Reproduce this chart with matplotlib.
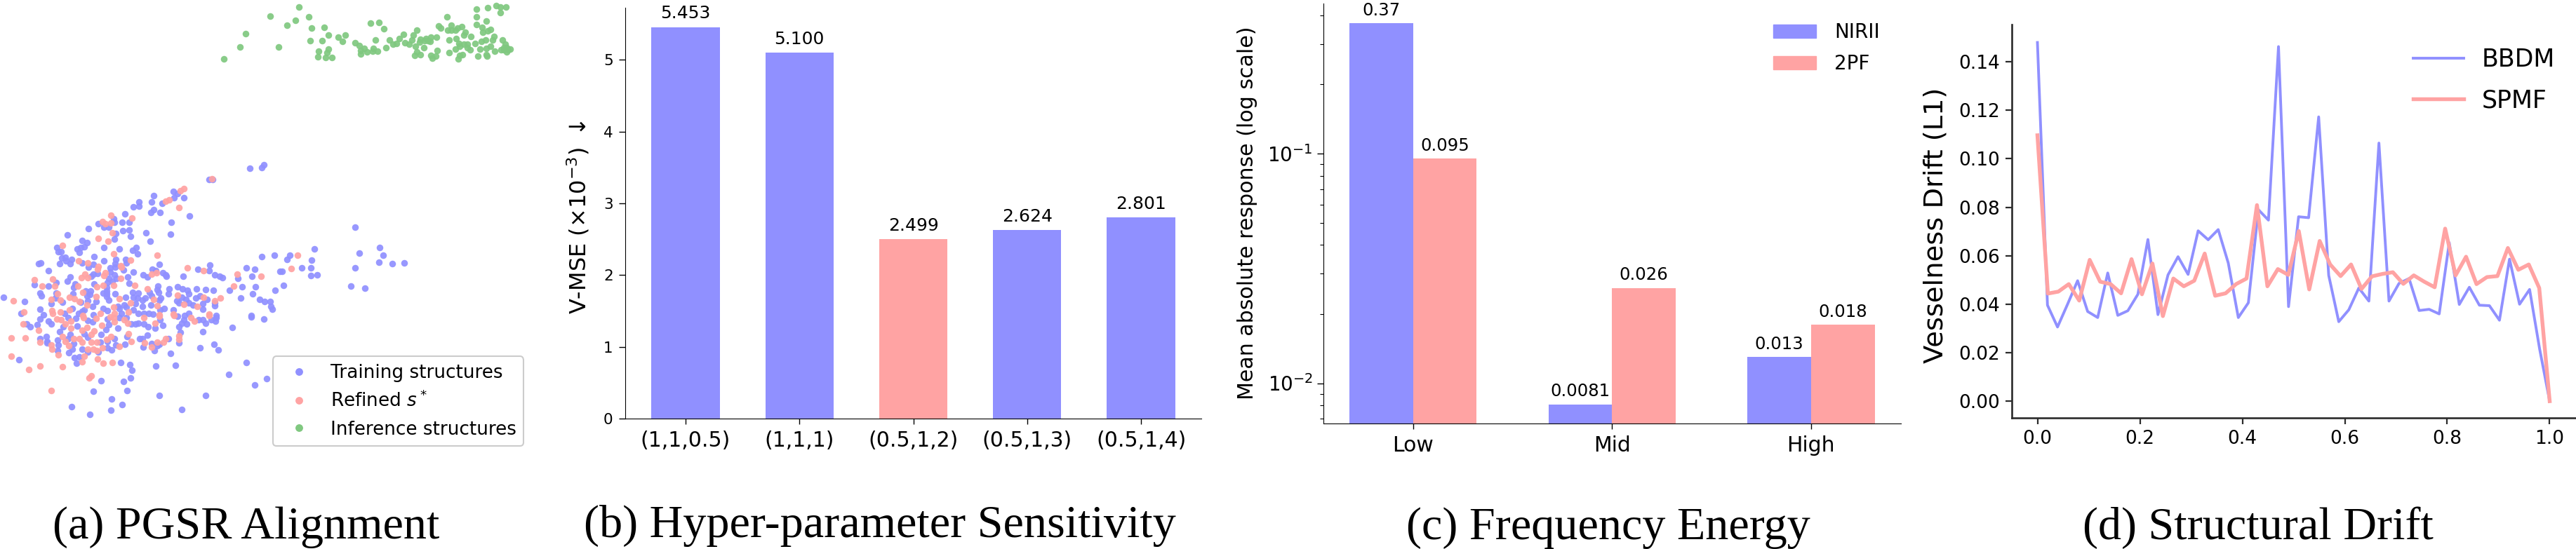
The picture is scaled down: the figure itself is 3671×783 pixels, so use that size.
import numpy as np
import matplotlib
matplotlib.use("Agg")
import matplotlib.pyplot as plt
from matplotlib.lines import Line2D
from matplotlib.patches import Patch
from matplotlib.ticker import NullFormatter

W, H = 3671, 783
BLUE = "#9090FF"
PINK = "#FFA3A3"
GREEN = "#80C880"
SPINE_DARK = "#2b2b2b"

# ---- (a) embedding coordinates -------------------------------------------
train_points = [
    (376,235),(373,239),(356,240),(303,256),(298,256),(247,273),(253,276),(219,279),(248,282),(262,282),
    (198,288),(216,288),(231,290),(190,295),(198,294),(219,299),
    (178,305),(174,317),(184,317),(162,312),(163,317),(140,319),(148,324),(155,324),(126,326),(175,329),
    (184,328),(186,337),(165,333),(163,341),(96,335),(117,343),(124,346),(148,353),(170,355),(194,353),
    (189,357),(196,362),(81,353),(83,359),(87,359),(110,355),(115,353),(120,352),(113,360),(134,366),
    (88,368),(93,367),(94,372),(102,370),(100,376),(85,376),(117,375),(148,372),(165,370),(179,370),
    (180,375),(55,376),(58,375),(69,386),(126,381),(133,377),(164,376),(164,381),(157,382),(157,388),
    (176,385),(190,388),(133,391),(130,394),(139,390),(163,392),(155,397),(166,397),(182,395),(100,395),
    (96,401),(80,403),(134,405),(153,403),(160,401),(184,404),(107,405),(105,410),(69,408),(49,406),
    (152,410),(152,415),(147,418),(152,419),(129,415),(122,415),(164,419),(189,417),(197,418),(57,418),
    (59,422),(80,418),(104,419),(124,422),(128,420),(152,423),(155,428),(179,424),(190,424),(196,425),
    (5,424),(35,430),(79,425),(89,431),(73,433),(115,431),(125,429),(137,430),(147,440),(168,437),
    (177,435),(193,433),(153,443),(170,440),(57,441),(103,440),(120,442),(132,437),(190,442),(197,447),
    (180,438),(30,447),(62,449),(92,447),(112,447),(117,444),(133,449),(173,447),
    (215,303),(228,303),(244,317),(270,308),(208,332),(243,334),(214,344),(373,366),(391,364),(227,377),
    (299,378),(351,382),(363,384),(217,384),(222,386),(282,384),(298,386),(399,387),(204,392),(210,395),
    (232,389),(236,392),(237,394),(261,394),(306,392),(313,394),(317,396),(339,397),(359,394),(225,408),
    (224,413),(241,412),(253,409),(260,412),(267,414),(280,412),(293,413),(304,414),(327,414),(345,409),
    (364,409),(392,414),(360,419),(343,425),(370,427),(377,430),(385,430),(386,437),(388,441),(226,417),
    (240,419),(213,417),(216,422),(269,419),(285,422),(259,424),(279,425),(295,427),(229,425),(207,425),
    (203,428),(252,429),(255,432),(265,427),(269,432),(275,435),(289,433),(306,432),(306,436),(215,435),
    (203,437),(227,428),(234,440),(228,442),(247,442),(289,441),(212,447),(205,447),(218,448),(269,447),
    (358,450),(263,450),(308,450),
    (57,455),(38,462),(43,466),(69,458),(73,462),(53,463),(90,466),(108,454),(97,453),(125,457),
    (132,459),(153,455),(170,453),(155,463),(151,470),(168,468),(187,462),(197,461),(193,462),(180,453),
    (110,465),(85,473),(100,477),(120,476),(125,481),(144,477),(66,480),(57,483),(67,487),(67,489),
    (82,485),(83,492),(82,500),(97,483),(105,490),(163,483),(143,488),(153,487),(181,480),(178,491),
    (165,492),(153,496),(159,499),(117,498),(103,498),(98,503),(140,502),(125,502),(106,510),(113,509),
    (109,518),(27,513),(172,517),(185,520),(188,528),(186,539),(144,543),(176,544),(181,557),(133,558),
    (159,569),(174,577),(158,585),(102,580),(128,591),(199,483),
    (228,456),(205,462),(211,466),(221,468),(232,464),(255,466),(262,456),(259,461),(266,462),(283,456),
    (289,456),(293,461),(301,456),(307,458),(308,453),(358,452),(376,455),(331,467),(289,473),(257,474),
    (210,478),(240,483),(203,483),(305,491),(311,499),(285,496),(255,489),(216,490),(224,493),(227,491),
    (204,495),(220,500),(243,504),(222,522),(250,521),(351,517),(326,534),(380,540),(363,549),(227,564),
    (293,564),(259,584),(253,451),
    (506,324),(541,353),(512,361),(546,364),(540,374),(559,376),(576,375),(506,382),(448,355),(413,364),
    (409,370),(444,371),(443,382),(430,382),(402,387),(443,393),(452,392),(404,407),(500,408),(520,411),
]
refined_points = [
    (302,255),(262,269),(257,272),(241,285),(236,287),(255,296),
    (158,307),(188,311),(146,316),(150,319),(158,318),(160,332),(140,340),(154,344),(89,350),(162,362),
    (186,371),(112,372),(125,375),(140,380),(139,384),(172,379),(173,381),(150,389),(148,393),(121,391),
    (116,396),(125,396),(172,397),(75,398),(49,399),(60,408),(78,408),(111,408),(138,409),(147,407),
    (162,407),(192,407),(118,417),(82,419),(99,424),(106,426),(137,423),(170,426),(73,427),(86,428),
    (113,430),(19,429),(124,435),(186,432),(162,438),(74,443),(99,442),(34,445),(86,445),(75,447),
    (143,447),(183,445),(163,447),(118,450),
    (224,364),(267,382),(216,391),(223,389),(290,386),(338,391),(372,394),(333,408),(210,412),(253,421),
    (219,427),(290,424),(314,425),(306,429),(262,434),(281,437),(224,436),(298,448),(247,448),(227,449),
    (33,462),(55,471),(16,482),(36,482),(57,488),(73,492),(74,498),(83,506),(16,508),(57,522),
    (41,527),(89,523),(73,557),(130,536),(127,539),(81,455),(87,456),(93,462),(101,458),(101,468),
    (119,453),(137,454),(145,464),(124,467),(117,471),(134,472),(130,477),(89,480),(93,487),(98,493),
    (105,483),(113,483),(117,488),(130,488),(138,488),(152,484),(158,480),(170,494),(183,476),(187,487),
    (125,498),(133,498),(138,500),(146,496),(120,508),(117,516),(139,512),(147,518),(160,517),(157,452),
    (162,453),(163,459),(177,456),(182,461),
    (205,453),(221,461),(272,453),(277,458),(248,450),(227,451),(298,450),(255,479),(255,484),(236,483),
    (233,488),(224,488),(206,489),(216,495),
    (424,364),(415,383),
]
inference_points = [
    (426,10),(385,23),(440,24),(421,29),(409,36),(444,40),(462,39),(350,48),(468,50),(492,50),
    (482,53),(488,59),(442,58),(459,58),(342,67),(397,67),(319,84),(454,73),(468,70),(466,75),
    (453,81),(464,82),(473,82),(528,33),(540,32),(547,41),(506,61),(512,65),(535,57),(519,69),
    (514,72),(514,77),(523,74),(532,69),(531,73),(538,73),(550,68),(555,57),(560,63),(565,62),
    (569,55),(575,49),(577,61),(583,63),(587,57),(589,50),(594,43),(592,66),(598,60),(604,68),
    (599,56),(605,58),(610,58),(607,55),(614,53),(613,59),(622,53),(591,79),(594,74),(599,78),
    (614,79),(616,83),(621,80),(623,72),(625,37),(628,40),(637,24),(643,36),(638,43),(643,43),
    (649,43),(652,40),(658,38),(663,46),(661,50),(671,52),(679,13),(695,11),(707,8),(713,10),
    (721,10),(713,18),(679,24),(693,30),(679,35),(687,39),(688,46),(695,44),(699,42),(640,57),
    (650,55),(654,62),(661,63),(666,63),(649,70),(655,66),(666,68),(670,71),(677,62),(686,59),
    (692,57),(702,57),(704,52),(684,70),(693,69),(699,66),(705,73),(716,57),(720,63),(714,71),
    (718,71),(722,68),(724,71),(727,70),(722,74),(718,68),(640,75),(659,78),(655,79),(653,84),
    (681,80),(693,78),(694,80),
]

# ---- (b) hyper-parameter sweep -------------------------------------------
weight_labels = ["(1,1,0.5)", "(1,1,1)", "(0.5,1,2)", "(0.5,1,3)", "(0.5,1,4)"]
vmse_values = [5.453, 5.100, 2.499, 2.624, 2.801]
best_index = 2

# ---- (c) frequency bands -------------------------------------------------
bands = ["Low", "Mid", "High"]
nirii_energy = [0.37, 0.0081, 0.013]
twopf_energy = [0.095, 0.026, 0.018]
nirii_text = ["0.37", "0.0081", "0.013"]
twopf_text = ["0.095", "0.026", "0.018"]

# ---- (d) drift curves ----------------------------------------------------
bbdm_drift = [
    .148,.0396,.0306,.040,.0497,.037,.0345,.0529,.0354,.0373,.0441,.0667,.0357,
    .0521,.0596,.0523,.0703,.0666,.0708,.057,.0345,.0406,.079,.0747,.1463,.039,
    .0761,.0757,.1173,.0519,.0328,.0377,.0467,.0413,.1065,.0413,.0486,.0506,.0374,
    .0379,.036,.0654,.0399,.047,.0396,.0394,.0334,.0586,.04,.0461,.0215,0.0,
]
spmf_drift = [
    .1097,.0444,.0452,.0483,.0415,.0583,.0493,.0483,.0445,.0586,.0441,.0568,.0351,
    .0506,.0474,.0497,.0609,.0435,.0445,.0483,.0506,.0809,.0474,.0545,.0521,.0702,
    .0461,.0661,.0564,.0516,.0564,.0463,.0515,.0525,.0532,.0484,.0519,.0493,.047,
    .0712,.0519,.0596,.0483,.0512,.0516,.0632,.0542,.0564,.0467,0.0,
]
bbdm_t = np.linspace(0, 1, len(bbdm_drift))
spmf_t = np.linspace(0, 1, len(spmf_drift))

plt.rcParams["font.family"] = "DejaVu Sans"
plt.rcParams["mathtext.default"] = "regular"
fig = plt.figure(figsize=(W / 100, H / 100), dpi=100)


def axes_at(left, right, top, bottom):
    return fig.add_axes([left / W, 1 - bottom / H, (right - left) / W, (bottom - top) / H])


def caption(x, y, text):
    fig.text(x / W, 1 - y / H, text, family="Liberation Serif", fontsize=47.6,
             ha="center", va="baseline", color="black")


# (a) scatter of structures
ax_a = axes_at(0, 765, 0, 783)
ax_a.set_xlim(0, 765)
ax_a.set_ylim(783, 0)
ax_a.axis("off")
for pts, col in ((train_points, BLUE), (refined_points, PINK), (inference_points, GREEN)):
    arr = np.array(pts)
    ax_a.scatter(arr[:, 0], arr[:, 1], s=47, color=col, alpha=0.93, linewidths=0)
handles = [
    Line2D([], [], ls="", marker="o", ms=6.8, color=BLUE, label="Training structures"),
    Line2D([], [], ls="", marker="o", ms=6.8, color=PINK, label=r"Refined $\mathit{s}^*$"),
    Line2D([], [], ls="", marker="o", ms=6.8, color=GREEN, label="Inference structures"),
]
ax_a.legend(handles=handles, loc="lower left", bbox_to_anchor=(389 / 765, 1 - 636 / 783),
            borderaxespad=0, fontsize=18.9, frameon=True, edgecolor="#cccccc",
            framealpha=1, labelspacing=0.5, handletextpad=0.72, borderpad=0.4).get_frame().set_linewidth(1.5)

# (b) bars
ax_b = axes_at(891, 1712, 11, 597)
positions = np.arange(len(vmse_values))
bar_colors = [PINK if i == best_index else BLUE for i in positions]
ax_b.bar(positions, vmse_values, width=0.6, color=bar_colors)
ax_b.set_xlim(-0.53, 4.53)
ax_b.set_ylim(0, 5.726)
ax_b.set_xticks(positions, weight_labels)
ax_b.set_yticks(range(6))
ax_b.tick_params(axis="x", labelsize=21.5, length=5.4, width=1, pad=7)
ax_b.tick_params(axis="y", labelsize=15.5, length=6.5, width=1, pad=6)
for p, v in zip(positions, vmse_values):
    ax_b.annotate(f"{v:.3f}", (p, v), xytext=(0, 9), textcoords="offset points",
                  ha="center", va="baseline", fontsize=18, annotation_clip=False)
ax_b.set_ylabel(r"V-MSE ($\times 10^{-3}$) $\downarrow$", fontsize=23)
ax_b.yaxis.set_label_coords((843 - 891) / (1712 - 891), 0.49)

# (c) log-scale grouped bars
ax_c = axes_at(1885.5, 2709, 5, 603.5)
band_x = np.arange(len(bands))
bar_w = 0.32
ax_c.bar(band_x - bar_w / 2, nirii_energy, bar_w, color=BLUE, label="NIRII")
ax_c.bar(band_x + bar_w / 2, twopf_energy, bar_w, color=PINK, label="2PF")
ax_c.set_yscale("log")
ax_c.set_xlim(-0.452, 2.452)
ax_c.set_ylim(0.0067, 0.45)
ax_c.set_xticks(band_x, bands)
ax_c.yaxis.set_minor_formatter(NullFormatter())
ax_c.tick_params(axis="x", labelsize=21.5, length=5.4, width=1, pad=7)
ax_c.tick_params(axis="y", which="major", labelsize=20, length=6.5, width=1, pad=4)
ax_c.tick_params(axis="y", which="minor", length=3.5, width=0.8)
for xs, vals, txts in ((band_x - bar_w / 2, nirii_energy, nirii_text),
                       (band_x + bar_w / 2, twopf_energy, twopf_text)):
    for x, v, t in zip(xs, vals, txts):
        ax_c.annotate(t, (x, v), xytext=(0, 8), textcoords="offset points",
                      ha="center", va="baseline", fontsize=17.6, annotation_clip=False)
ax_c.set_ylabel("Mean absolute response (log scale)", fontsize=21.6)
ax_c.yaxis.set_label_coords((1792 - 1885.5) / (2709 - 1885.5), 0.5)
ax_c.legend(handles=[Patch(color=BLUE, label="NIRII"), Patch(color=PINK, label="2PF")],
            loc="upper left", bbox_to_anchor=((2527 - 1885.5) / (2709 - 1885.5), 1 - 27 / 598.5),
            borderaxespad=0, borderpad=0, frameon=False, fontsize=20, handlelength=2.2,
            handleheight=0.7, handletextpad=0.93, labelspacing=0.62)

# (d) drift lines
ax_d = axes_at(2867, 3670, 35, 596)
ax_d.plot(bbdm_t, bbdm_drift, color=BLUE, lw=2.8, label="BBDM")
ax_d.plot(spmf_t, spmf_drift, color=PINK, lw=3.9, label="SPMF")
ax_d.set_xlim(-0.05, 1.05)
ax_d.set_ylim(-0.0069, 0.1554)
ax_d.set_xticks(np.arange(0, 1.01, 0.2))
ax_d.set_yticks(np.arange(0, 0.141, 0.02))
ax_d.set_yticklabels([f"{v:.2f}" for v in np.arange(0, 0.141, 0.02)])
ax_d.tick_params(axis="both", labelsize=19, length=6.5, width=1.6, color=SPINE_DARK, pad=6)
ax_d.set_ylabel("Vesselness Drift (L1)", fontsize=27.6)
ax_d.yaxis.set_label_coords((2776 - 2867) / (3670 - 2867), 0.49)
ax_d.legend(loc="upper left", bbox_to_anchor=((3439 - 2867) / 803, 1 - 33 / 561),
            borderaxespad=0, borderpad=0, frameon=False, fontsize=25, handlelength=2.07,
            handletextpad=0.75, labelspacing=0.7)
for side in ("left", "bottom"):
    ax_d.spines[side].set_linewidth(1.9)
    ax_d.spines[side].set_color(SPINE_DARK)

for ax in (ax_b, ax_c, ax_d):
    ax.spines["top"].set_visible(False)
    ax.spines["right"].set_visible(False)

caption(351, 768, "(a) PGSR Alignment")
caption(1254, 766, "(b) Hyper-parameter Sensitivity")
caption(2292, 769, "(c) Frequency Energy")
caption(3218, 769, "(d) Structural Drift")

fig.savefig("out.png", dpi=100)
